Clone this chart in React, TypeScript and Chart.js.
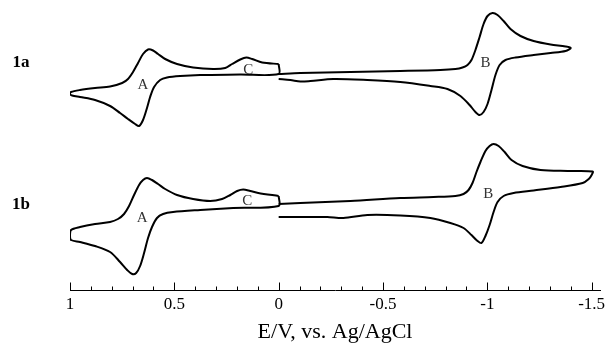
import React, { useEffect, useRef } from "react";
import { Chart, registerables } from "chart.js";

Chart.register(...registerables);

// ---- Data: potential E (V vs Ag/AgCl) and current (arbitrary units, cathodic up) ----
// Compound 1a, positive sweep loop (0 -> +1.0 -> 0 V)
const E_1A_POS = [0, 0, 0.184, 0.376, 0.472, 0.535, 0.568, 0.597, 0.616, 0.631, 0.65, 0.669, 0.688, 0.722, 0.76, 0.808, 0.88, 0.952, 0.99, 1.0,
  0.995, 0.952, 0.88, 0.808, 0.75, 0.722, 0.698, 0.674, 0.65, 0.626, 0.602, 0.578, 0.544, 0.487, 0.41, 0.314, 0.256, 0.223, 0.184, 0.155, 0.127, 0.079, 0];
const I_1A_POS = [11, 1, 0.5, 0, -1, -2.5, -5, -12, -22, -33, -45, -51, -49, -44, -38, -31, -25, -22, -20.5, -19,
  -17, -15, -13, -11.5, -8, -4, 3, 12, 21, 25.5, 24.5, 21, 16, 11, 7.5, 6, 7, 11, 15.5, 17.5, 16, 12.5, 11];
// Compound 1a, negative sweep (0 -> -1.4 -> 0 V)
const E_1A_NEG = [0, -0.104, -0.344, -0.583, -0.775, -0.847, -0.881, -0.905, -0.924, -0.943, -0.963, -0.982, -1.001, -1.025, -1.049, -1.078, -1.111, -1.159, -1.222, -1.303, -1.375, -1.4,
  -1.375, -1.303, -1.222, -1.135, -1.087, -1.059, -1.039, -1.02, -1.001, -0.982, -0.963, -0.943, -0.915, -0.871, -0.809, -0.727, -0.583, -0.425, -0.262, -0.152, -0.104, -0.056, 0];
const I_1A_NEG = [1, 2, 3, 4, 5, 6, 7.5, 10, 15, 25, 38, 51, 59, 62, 60, 54, 46, 39, 34, 30.5, 28.5, 27,
  24, 22, 20, 17.5, 15, 10, 0, -15, -29, -37, -40, -37, -30, -21, -14, -11, -7, -5, -4, -6, -6.5, -5, -4];
// Compound 1b, positive sweep loop
const E_1B_POS = [0, 0, 0.218, 0.376, 0.506, 0.554, 0.583, 0.607, 0.626, 0.645, 0.664, 0.683, 0.702, 0.726, 0.76, 0.808, 0.88, 0.952, 0.995, 1.0,
  0.995, 0.952, 0.88, 0.808, 0.77, 0.741, 0.717, 0.693, 0.669, 0.65, 0.631, 0.607, 0.578, 0.544, 0.487, 0.41, 0.328, 0.271, 0.232, 0.199, 0.17, 0.136, 0.098, 0];
const I_1B_POS = [10, 0, -2, -4, -6, -8, -12, -21, -32, -47, -60, -67, -68, -64, -56, -46, -40, -36, -34, -30,
  -24, -21, -18, -16, -13, -8, 0, 11, 21, 26, 28, 26, 22, 17, 11, 7, 5, 7, 11, 15, 16.5, 15, 13, 10];
// Compound 1b, negative sweep
const E_1B_NEG = [0, -0.104, -0.344, -0.583, -0.742, -0.847, -0.886, -0.91, -0.929, -0.948, -0.967, -0.991, -1.011, -1.03, -1.054, -1.083, -1.116, -1.169, -1.255, -1.385, -1.505,
  -1.5, -1.486, -1.457, -1.351, -1.222, -1.126, -1.078, -1.049, -1.03, -1.011, -0.991, -0.972, -0.953, -0.924, -0.886, -0.823, -0.727, -0.583, -0.425, -0.31, -0.233, -0.104, 0];
const I_1B_NEG = [2, 3, 5, 8, 9, 10, 12, 16, 23, 34, 44, 55, 60, 62, 60, 54, 46, 40, 36, 35, 34.5,
  31, 27, 23, 19, 15.5, 13, 10, 4, -6, -19, -30, -37, -35, -29, -22, -17, -12, -9.5, -9, -12, -11, -11, -11];

// Vertical stacking offsets of the two voltammograms
const OFFSET_1A = 215;
const OFFSET_1B = 84;

// Peak labels: [text, E, current, offset]
const PEAK_LABELS: [string, number, number, number][] = [
  ["A", 0.65, -10, OFFSET_1A],
  ["C", 0.146, 5, OFFSET_1A],
  ["B", -0.991, 12, OFFSET_1A],
  ["A", 0.654, -12, OFFSET_1B],
  ["C", 0.151, 5, OFFSET_1B],
  ["B", -1.005, 12, OFFSET_1B],
];
const SERIES_LABELS: [string, number, number, number][] = [
  ["1a", 1.235, 12, OFFSET_1A],
  ["1b", 1.235, 1, OFFSET_1B],
];

const X_MIN = -1.54;
const X_MAX = 1;
const SERIF = '"Liberation Serif", "Times New Roman", serif';

function pts(E: number[], I: number[], off: number) {
  return E.map((e, k) => ({ x: e, y: I[k] + off }));
}

function isMajor(v: number) {
  return Math.abs(v * 2 - Math.round(v * 2)) < 1e-6;
}

const annotPlugin = {
  id: "cvAnnot",
  afterDraw(chart: any) {
    const ctx = chart.ctx;
    const xs = chart.scales.x;
    const ys = chart.scales.y;
    ctx.save();
    // tick marks pointing up from the axis line
    ctx.strokeStyle = "#000";
    ctx.lineWidth = 1;
    const y0 = Math.round(xs.top) + 0.5;
    ctx.beginPath();
    xs.ticks.forEach((t: any) => {
      const px = Math.round(xs.getPixelForValue(t.value)) + 0.5;
      ctx.moveTo(px, y0);
      ctx.lineTo(px, y0 - (isMajor(t.value) ? 8 : 4));
    });
    ctx.stroke();
    // peak labels
    ctx.fillStyle = "#333";
    ctx.textAlign = "center";
    ctx.textBaseline = "middle";
    ctx.font = `15px ${SERIF}`;
    PEAK_LABELS.forEach(([txt, e, i, off]) => {
      ctx.fillText(txt, xs.getPixelForValue(e), ys.getPixelForValue(i + off));
    });
    ctx.fillStyle = "#000";
    ctx.font = `bold 17px ${SERIF}`;
    SERIES_LABELS.forEach(([txt, e, i, off]) => {
      ctx.fillText(txt, xs.getPixelForValue(e), ys.getPixelForValue(i + off));
    });
    ctx.restore();
  },
};

export default function App() {
  const ref = useRef<HTMLCanvasElement | null>(null);
  useEffect(() => {
    if (!ref.current) return;
    const line = (data: any[]) => ({
      data,
      showLine: true,
      borderColor: "#000",
      borderWidth: 2,
      pointRadius: 0,
      tension: 0.3,
      fill: false,
    });
    const chart = new Chart(ref.current, {
      type: "scatter",
      data: {
        datasets: [
          line(pts(E_1A_POS, I_1A_POS, OFFSET_1A)),
          line(pts(E_1A_NEG, I_1A_NEG, OFFSET_1A)),
          line(pts(E_1B_POS, I_1B_POS, OFFSET_1B)),
          line(pts(E_1B_NEG, I_1B_NEG, OFFSET_1B)),
        ],
      },
      options: {
        animation: false,
        responsive: false,
        events: [],
        layout: { padding: { left: 70, right: 11, top: 0, bottom: 0 } },
        plugins: { legend: { display: false }, tooltip: { enabled: false } },
        scales: {
          x: {
            type: "linear",
            min: X_MIN,
            max: X_MAX,
            reverse: true,
            afterFit: (scale: any) => {
              scale.height = 58;
            },
            grid: { display: false, drawTicks: false },
            border: { display: true, color: "#000", width: 1 },
            ticks: {
              stepSize: 0.1,
              includeBounds: false,
              autoSkip: false,
              maxRotation: 0,
              padding: 4,
              color: "#000",
              font: { family: SERIF, size: 17 },
              callback: (v: any) => (isMajor(Number(v)) ? String(Math.round(Number(v) * 10) / 10) : ""),
            },
            title: {
              display: true,
              text: "E/V, vs. Ag/AgCl",
              color: "#000",
              font: { family: SERIF, size: 22 },
              padding: { top: 0, bottom: 3 },
            },
          },
          y: { display: false, min: 0, max: 290 },
        },
      },
      plugins: [annotPlugin],
    } as any);
    return () => chart.destroy();
  }, []);
  return (
    <div style={{ position: "absolute", left: 0, top: 0, width: 611, height: 348, background: "#fff" }}>
      <canvas ref={ref} width={611} height={348} style={{ display: "block" }} />
    </div>
  );
}
